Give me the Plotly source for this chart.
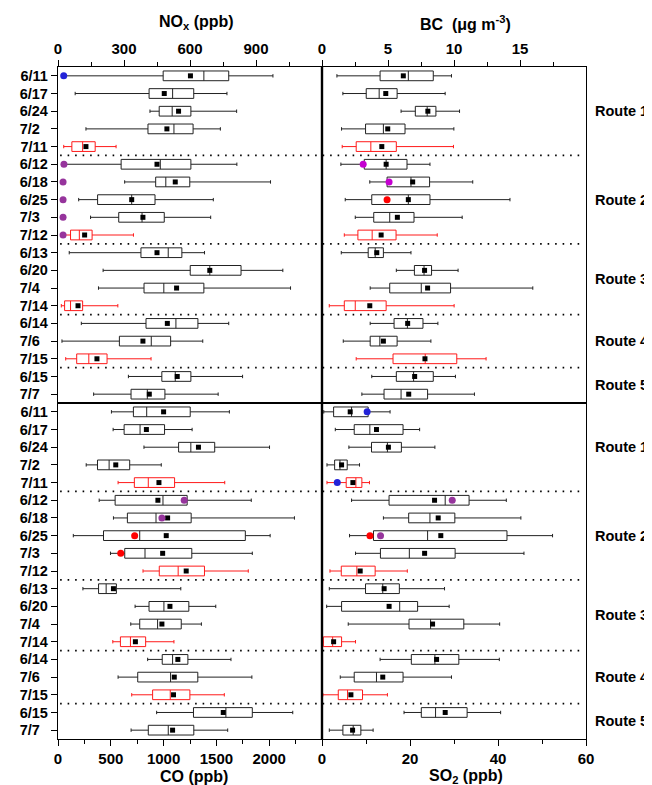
import plotly.graph_objects as go

# ---------------- data ----------------
dates = ["6/11", "6/17", "6/24", "7/2", "7/11",
         "6/12", "6/18", "6/25", "7/3", "7/12",
         "6/13", "6/20", "7/4", "7/14",
         "6/14", "7/6", "7/15",
         "6/15", "7/7"]
red_rows = [4, 9, 13, 16]
separators = [4.5, 9.5, 13.5, 16.5]
routes = ["Route 1", "Route 2", "Route 3", "Route 4", "Route 5"]
route_pos = [2, 7, 11.5, 15, 17.5]

# NOx (ppb)
nox_low = [25, 78, 418, 127, 26, 27, 303, 94, 148, 27, 51, 205, 184, 15, 106, 18, 35, 320, 162]
nox_q1 = [478, 414, 460, 409, 63, 287, 444, 180, 276, 57, 377, 601, 391, 30, 400, 279, 85, 472, 332]
nox_med = [663, 521, 519, 527, 112, 465, 490, 335, 382, 97, 501, 690, 481, 57, 536, 424, 140, 533, 406]
nox_q3 = [776, 617, 604, 614, 169, 604, 599, 441, 483, 155, 563, 832, 663, 112, 636, 512, 223, 604, 486]
nox_high = [977, 768, 812, 738, 264, 813, 966, 706, 694, 343, 666, 1022, 1057, 272, 776, 658, 423, 839, 728]
nox_mean = [602, 483, 548, 495, 127, 450, 533, 335, 386, 121, 450, 690, 539, 91, 497, 386, 177, 542, 415]
nox_dot_rows = [0, 5, 6, 7, 8, 9]
nox_dot_vals = [26, 27, 23, 23, 23, 23]
nox_dot_cols = ["#2323d8", "#96349c", "#96349c", "#96349c", "#96349c", "#96349c"]

# BC (ug m-3)
bc_low = [1.13, 1.58, 5.99, 1.48, 1.53, 1.43, 3.62, 1.76, 2.52, 1.69, 1.46, 5.63, 3.65, 0.55, 3.65, 1.61, 2.59, 3.77, 3.02]
bc_q1 = [4.40, 3.35, 7.07, 3.30, 2.59, 3.20, 4.93, 3.77, 3.92, 2.72, 3.50, 7.00, 5.13, 1.69, 5.46, 3.65, 5.38, 5.63, 4.70]
bc_med = [6.54, 4.33, 7.97, 4.65, 3.70, 4.86, 6.74, 6.54, 5.13, 3.80, 4.03, 7.73, 7.52, 2.52, 6.47, 4.38, 7.82, 6.94, 5.99]
bc_q3 = [8.43, 5.69, 8.63, 6.29, 5.63, 6.44, 8.15, 8.18, 6.97, 5.61, 4.65, 8.30, 9.74, 4.86, 7.65, 5.69, 10.21, 8.43, 8.00]
bc_high = [9.81, 9.33, 10.42, 9.99, 9.96, 8.18, 11.42, 14.24, 10.62, 8.73, 6.74, 10.31, 15.97, 10.01, 8.78, 8.25, 12.43, 10.11, 11.55]
bc_mean = [6.16, 4.83, 8.02, 4.98, 4.53, 4.86, 6.87, 6.54, 5.71, 4.48, 4.15, 7.77, 8.00, 3.62, 6.49, 4.65, 7.80, 7.02, 6.57]
bc_dot_rows = [5, 6, 7]
bc_dot_vals = [3.12, 5.08, 4.93]
bc_dot_cols = ["#c400d0", "#c400d0", "#ff0000"]

# CO (ppb)
co_low = [506, 522, 814, 267, 569, 390, 525, 145, 497, 805, 236, 730, 689, 519, 849, 569, 698, 934, 692]
co_q1 = [714, 626, 1142, 374, 723, 541, 657, 431, 632, 959, 384, 862, 774, 591, 987, 755, 896, 1283, 855]
co_med = [840, 777, 1258, 484, 855, 994, 928, 774, 824, 1138, 456, 1003, 943, 686, 1085, 1066, 1063, 1590, 1044]
co_q3 = [1252, 1009, 1484, 679, 1104, 1223, 1261, 1774, 1267, 1387, 553, 1239, 1167, 830, 1230, 1324, 1249, 1840, 1286]
co_high = [1623, 1270, 2003, 978, 1579, 1830, 2239, 2009, 1840, 1802, 1163, 1494, 1358, 1098, 1638, 1836, 1575, 2223, 1607]
co_mean = [1000, 837, 1330, 547, 956, 946, 1038, 1025, 991, 1214, 525, 1060, 984, 733, 1135, 1101, 1094, 1565, 1085]
co_dot_rows = [5, 6, 7, 8]
co_dot_vals = [1195, 984, 726, 594]
co_dot_cols = ["#96349c", "#96349c", "#ff0000", "#ff0000"]

# SO2 (ppb)
so2_low = [0.4, 3.02, 6.11, 1.13, 1.13, 6.72, 13.96, 6.26, 7.62, 1.81, 1.66, 1.06, 5.96, 0.2, 13.2, 4.15, 0.2, 18.64, 1.66]
so2_q1 = [2.64, 7.32, 11.25, 2.87, 5.50, 15.24, 19.70, 11.70, 13.28, 4.38, 9.89, 4.45, 19.78, 0.3, 20.30, 7.32, 3.70, 22.57, 4.75]
so2_med = [6.72, 10.87, 14.87, 4.08, 7.70, 28.00, 24.53, 24.00, 19.85, 7.92, 13.81, 17.66, 24.68, 2.42, 25.66, 12.38, 5.81, 25.81, 7.09]
so2_q3 = [10.49, 18.42, 18.04, 5.73, 9.06, 33.43, 30.19, 42.04, 30.26, 12.08, 17.58, 21.73, 32.23, 4.45, 31.10, 18.42, 9.21, 32.98, 8.83]
so2_high = [15.47, 22.19, 25.66, 8.53, 10.79, 41.89, 45.20, 52.40, 45.90, 19.39, 27.85, 28.90, 40.38, 7.62, 40.30, 29.43, 14.87, 40.60, 11.62]
so2_mean = [6.41, 12.38, 15.09, 4.45, 7.02, 25.58, 26.41, 27.00, 23.32, 8.68, 14.12, 15.25, 25.13, 2.64, 26.04, 13.81, 6.57, 28.00, 6.95]
so2_dot_rows = [0, 4, 5, 7, 7]
so2_dot_vals = [10.26, 3.47, 29.6, 10.9, 13.3]
so2_dot_cols = ["#2323d8", "#2323d8", "#96349c", "#ff0000", "#96349c"]

# ---------------- figure ----------------
FONT = "Liberation Sans, Arial, Helvetica, sans-serif"
fig = go.Figure()

panels = [
    ("x", "y", nox_low, nox_q1, nox_med, nox_q3, nox_high, nox_mean, nox_dot_rows, nox_dot_vals, nox_dot_cols),
    ("x2", "y2", bc_low, bc_q1, bc_med, bc_q3, bc_high, bc_mean, bc_dot_rows, bc_dot_vals, bc_dot_cols),
    ("x3", "y3", co_low, co_q1, co_med, co_q3, co_high, co_mean, co_dot_rows, co_dot_vals, co_dot_cols),
    ("x4", "y4", so2_low, so2_q1, so2_med, so2_q3, so2_high, so2_mean, so2_dot_rows, so2_dot_vals, so2_dot_cols),
]

for xa, ya, lo, q1, md, q3, hi, mn, drows, dvals, dcols in panels:
    for color, rows in (("#222222", [i for i in range(len(dates)) if i not in red_rows]),
                        ("#ff1a1a", red_rows)):
        fig.add_trace(go.Box(
            orientation="h",
            y=rows,
            q1=[q1[i] for i in rows],
            median=[md[i] for i in rows],
            q3=[q3[i] for i in rows],
            lowerfence=[lo[i] for i in rows],
            upperfence=[hi[i] for i in rows],
            width=0.55,
            whiskerwidth=0.35,
            line=dict(color=color, width=1),
            fillcolor="rgba(255,255,255,0)",
            boxpoints=False,
            xaxis=xa, yaxis=ya,
            hoverinfo="skip",
        ))
    fig.add_trace(go.Scatter(
        x=mn, y=list(range(len(dates))), mode="markers",
        marker=dict(symbol="square", size=5, color="black"),
        xaxis=xa, yaxis=ya, hoverinfo="skip",
    ))
    fig.add_trace(go.Scatter(
        x=dvals, y=drows, mode="markers",
        marker=dict(symbol="circle", size=7, color=dcols),
        xaxis=xa, yaxis=ya, hoverinfo="skip",
    ))

tickfont = dict(family=FONT, size=15, color="black", weight="bold")
ytickfont = dict(family=FONT, size=14.5, color="black", weight="bold")
ticktext = [d if len(d) == 4 else d + "\u2007" for d in dates]

def xaxis(domain, anchor, side, rng, tv, minor_tv):
    return dict(domain=domain, anchor=anchor, side=side, range=rng,
                tickmode="array", tickvals=tv, ticks="outside", ticklen=6,
                tickwidth=1.2, tickcolor="black", tickfont=tickfont,
                showline=True, linecolor="black", linewidth=1.3, mirror=True,
                showgrid=False, zeroline=False,
                minor=dict(tickmode="array", tickvals=minor_tv, ticks="outside",
                           ticklen=3.5, tickwidth=1.2, tickcolor="black", showgrid=False))

def yaxis(domain, anchor, labels):
    d = dict(domain=domain, anchor=anchor, range=[18.5, -0.5],
             showline=True, linecolor="black", linewidth=1.3, mirror=True,
             showgrid=False, zeroline=False, tickmode="array",
             tickvals=list(range(len(dates))))
    if labels:
        d.update(ticktext=ticktext, ticks="outside", ticklen=6, tickwidth=1.2,
                 tickcolor="black", tickfont=ytickfont)
    else:
        d.update(showticklabels=False, ticks="")
    return d

# page has an 8px body margin; figure is sized so the plot area lands where the reference has it
fig.update_layout(
    width=644, height=777,
    margin=dict(l=48, r=66, t=59, b=46),
    paper_bgcolor="white", plot_bgcolor="white",
    showlegend=False, boxmode="overlay",
    xaxis=xaxis([0, 0.5], "y", "top", [0, 1200], [0, 300, 600, 900], [150, 450, 750, 1050]),
    xaxis2=xaxis([0.5, 1], "y2", "top", [0, 20], [0, 5, 10, 15], [2.5, 7.5, 12.5, 17.5]),
    xaxis3=xaxis([0, 0.5], "y3", "bottom", [0, 2500], [0, 500, 1000, 1500, 2000], [250, 750, 1250, 1750, 2250]),
    xaxis4=xaxis([0.5, 1], "y4", "bottom", [0, 60], [0, 20, 40, 60], [10, 30, 50]),
    yaxis=yaxis([0.5, 1], "x", True),
    yaxis2=yaxis([0.5, 1], "x2", False),
    yaxis3=yaxis([0, 0.5], "x3", True),
    yaxis4=yaxis([0, 0.5], "x4", False),
)

shapes = []
for yref in ("y", "y3"):
    for s in separators:
        shapes.append(dict(type="line", xref="paper", yref=yref, x0=0.004, x1=0.996, y0=s, y1=s,
                           line=dict(color="black", width=1.6, dash="1.6px,5.9px")))
shapes.append(dict(type="line", xref="paper", yref="paper", x0=0.5, x1=0.5, y0=0, y1=1,
                   line=dict(color="black", width=2.4)))
fig.update_layout(shapes=shapes)

ann = []
titlefont = dict(family=FONT, size=16, color="black", weight="bold")
ann.append(dict(text="NO<sub>x</sub> (ppb)", xref="paper", yref="paper", x=0.2615, y=1.066,
                showarrow=False, font=titlefont, xanchor="center", yanchor="middle"))
ann.append(dict(text="BC  (μg m<sup>-3</sup>)", xref="paper", yref="paper", x=0.772, y=1.066,
                showarrow=False, font=titlefont, xanchor="center", yanchor="middle"))
ann.append(dict(text="CO (ppb)", xref="paper", yref="paper", x=0.2575, y=-0.0565,
                showarrow=False, font=titlefont, xanchor="center", yanchor="middle"))
ann.append(dict(text="SO<sub>2</sub> (ppb)", xref="paper", yref="paper", x=0.7736, y=-0.0565,
                showarrow=False, font=titlefont, xanchor="center", yanchor="middle"))
routefont = dict(family=FONT, size=14.5, color="black", weight="bold")
for yref in ("y", "y3"):
    for r, p in zip(routes, route_pos):
        ann.append(dict(text=r, xref="paper", yref=yref, x=1.0, xshift=7, y=p, showarrow=False,
                        font=routefont, xanchor="left", yanchor="middle"))
fig.update_layout(annotations=ann)

fig.write_html("out.html")
